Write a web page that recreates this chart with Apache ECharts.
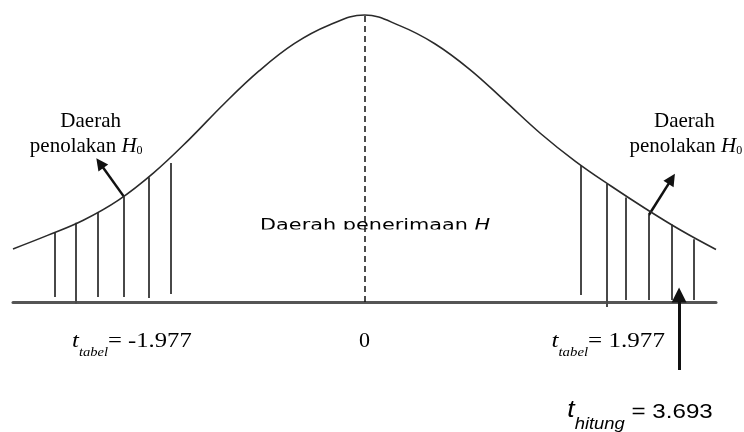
<!DOCTYPE html>
<html>
<head>
<meta charset="utf-8">
<script src="https://cdn.jsdelivr.net/npm/echarts@6/dist/echarts.min.js"></script>
<style>
  html, body { margin: 0; padding: 0; background: #fff; }
  #chart { width: 744px; height: 432px; }
</style>
</head>
<body>
<div id="chart"></div>
<script>
// Kurva distribusi t (skema): posisi -100..100, tinggi 0..100 (puncak)
const curveX = [-100, -90, -80, -70, -60, -50, -40, -30, -20, -10, 0,
  10, 20, 30, 40, 50, 60, 70, 80, 90, 100];
const curveY = [18.5, 23.3, 28.5, 35.5, 45, 56.5, 69, 80.5, 90, 96.5, 100,
  96.3, 90, 81, 70, 58.8, 49, 40.5, 32.5, 25, 18.3];

// garis arsir daerah penolakan H0
const rejectLeftX = [-88.1, -82.1, -75.9, -68.5, -61.4, -55.1];
const rejectLeftTop = [24.0, 27.6, 31.3, 36.8, 43.5, 48.4];
const rejectLeftBottom = [1.7, -0.5, 1.7, 1.7, 1.4, 2.8];
const rejectRightX = [61.6, 68.8, 74.4, 80.9, 87.4, 93.6];
const rejectRightTop = [47.6, 41.1, 36.4, 30.3, 27.0, 21.9];
const rejectRightBottom = [2.4, -1.7, 0.7, 0.7, 0.7, 0.7];

// panah penunjuk [x1, y1, x2, y2]
const arrowLeft = [-68.5, 36.8, -75.3, 48.4];
const arrowRight = [80.9, 30.3, 87.4, 42.9];
const arrowHitung = [89.5, -23.7, 89.5, 2.4];

// nilai uji
const tTabel = '1.977';
const tHitung = '3.693';
const centerLabel = '0';

const serif = '"Liberation Serif", "Times New Roman", serif';
const sans = '"Liberation Sans", Arial, sans-serif';
const ink = '#222';

const chart = echarts.init(document.getElementById('chart'));

const hatchData = rejectLeftX.map((x, i) => ({ coords: [[x, rejectLeftBottom[i]], [x, rejectLeftTop[i]]] }))
  .concat(rejectRightX.map((x, i) => ({ coords: [[x, rejectRightBottom[i]], [x, rejectRightTop[i]]] })));

const toCoords = a => ({ coords: [[a[0], a[1]], [a[2], a[3]]] });

chart.setOption({
  animation: false,
  grid: { left: 13, right: 28, top: 15, bottom: 130 },
  xAxis: {
    type: 'value', min: -100, max: 100,
    axisLine: { show: true, onZero: false, lineStyle: { color: '#555', width: 3 } },
    axisTick: { show: false }, axisLabel: { show: false }, splitLine: { show: false }
  },
  yAxis: { type: 'value', min: 0, max: 100, show: false },
  series: [
    {
      type: 'line', data: curveX.map((x, i) => [x, curveY[i]]),
      smooth: 0.4, showSymbol: false, clip: false, silent: true, z: 3,
      lineStyle: { color: '#2a2a2a', width: 1.6 }
    },
    {
      type: 'lines', coordinateSystem: 'cartesian2d', silent: true, clip: false,
      data: [{ coords: [[0, 0], [0, 100]] }],
      lineStyle: { color: '#111', width: 1.5, type: [6, 4], opacity: 1 }
    },
    {
      type: 'lines', coordinateSystem: 'cartesian2d', silent: true, clip: false,
      data: hatchData,
      lineStyle: { color: '#484848', width: 2, opacity: 1 }
    },
    {
      type: 'lines', coordinateSystem: 'cartesian2d', silent: true, clip: false,
      data: [toCoords(arrowLeft), toCoords(arrowRight)],
      symbol: ['none', 'triangle'], symbolSize: 12,
      lineStyle: { color: '#111', width: 2.5, opacity: 1 }
    },
    {
      type: 'lines', coordinateSystem: 'cartesian2d', silent: true, clip: false,
      data: [toCoords(arrowHitung)],
      symbol: ['none', 'triangle'], symbolSize: 15,
      lineStyle: { color: '#111', width: 3, opacity: 1 }
    }
  ]
});

// teks diletakkan pada koordinat data lewat skala grafik
function at(u, h) {
  return chart.convertToPixel({ gridIndex: 0 }, [u, h]);
}

const tabelRich = {
  t: { fontFamily: serif, fontStyle: 'italic', fontSize: 22, lineHeight: 22, verticalAlign: 'top', color: ink },
  s: { fontFamily: serif, fontStyle: 'italic', fontSize: 13, lineHeight: 13, padding: [16, 0, 0, 0], verticalAlign: 'top', color: ink },
  m: { fontFamily: serif, fontSize: 22, lineHeight: 22, verticalAlign: 'top', color: ink }
};
const hitungRich = {
  t: { fontFamily: sans, fontStyle: 'italic', fontSize: 23, lineHeight: 23, verticalAlign: 'top', color: ink },
  s: { fontFamily: sans, fontStyle: 'italic', fontSize: 16, lineHeight: 16, padding: [18, 0, 0, 0], verticalAlign: 'top', color: ink },
  m: { fontFamily: sans, fontSize: 21, lineHeight: 21, padding: [3, 0, 0, 0], verticalAlign: 'top', color: ink }
};
const tolakRich = {
  n: { fontFamily: serif, fontSize: 21, lineHeight: 21, verticalAlign: 'top', color: ink },
  h: { fontFamily: serif, fontStyle: 'italic', fontSize: 21, lineHeight: 21, verticalAlign: 'top', color: ink },
  o: { fontFamily: serif, fontSize: 12, lineHeight: 12, padding: [9, 0, 0, 0], verticalAlign: 'top', color: ink }
};
const terimaRich = {
  a: { fontFamily: '"DejaVu Sans", sans-serif', fontSize: 16, lineHeight: 16, verticalAlign: 'top', color: '#333' },
  h: { fontFamily: '"DejaVu Sans", sans-serif', fontStyle: 'italic', fontSize: 16, lineHeight: 16, verticalAlign: 'top', color: '#333' },
  o: { fontFamily: '"DejaVu Sans", sans-serif', fontSize: 10, lineHeight: 10, padding: [14, 0, 0, 0], verticalAlign: 'top', color: '#333' }
};

function textAt(u, h, text, rich, align, extra) {
  const p = at(u, h);
  return Object.assign({
    type: 'text', x: p[0], y: p[1], z: 0,
    style: { text: text, rich: rich, align: align, verticalAlign: 'top' }
  }, extra || {});
}

const maskTL = at(-31.2, 25.3);
const maskBR = at(38.5, 19.5);

chart.setOption({
  graphic: [
    textAt(-77.9, 66.6, '{n|Daerah}', tolakRich, 'center'),
    textAt(-95.2, 57.8, '{n|penolakan }{h|H}{o|0}', tolakRich, 'left'),
    textAt(91.0, 66.6, '{n|Daerah}', tolakRich, 'center'),
    textAt(75.4, 57.8, '{n|penolakan }{h|H}{o|0}', tolakRich, 'left'),
    textAt(-29.7, 29.4, '{a|Daerah penerimaan }{h|H}{o|0}', terimaRich, 'left', { scaleX: 1.3 }),
    {
      type: 'rect', z: 1, silent: true,
      shape: { x: maskTL[0], y: maskTL[1], width: maskBR[0] - maskTL[0], height: maskBR[1] - maskTL[1] },
      style: { fill: '#fff' }
    },
    textAt(-83.2, -9.8, '{t|t}{s|tabel}{m|= -' + tTabel + '}', tabelRich, 'left', { scaleX: 1.12 }),
    textAt(0, -9.8, '{m|' + centerLabel + '}', tabelRich, 'center'),
    textAt(53.2, -9.8, '{t|t}{s|tabel}{m|= ' + tTabel + '}', tabelRich, 'left', { scaleX: 1.14 }),
    textAt(57.7, -33.8, '{t|t}{s|hitung}{m| = ' + tHitung + '}', hitungRich, 'left', { scaleX: 1.15 })
  ]
});

window.addEventListener('resize', () => chart.resize());
</script>
</body>
</html>
